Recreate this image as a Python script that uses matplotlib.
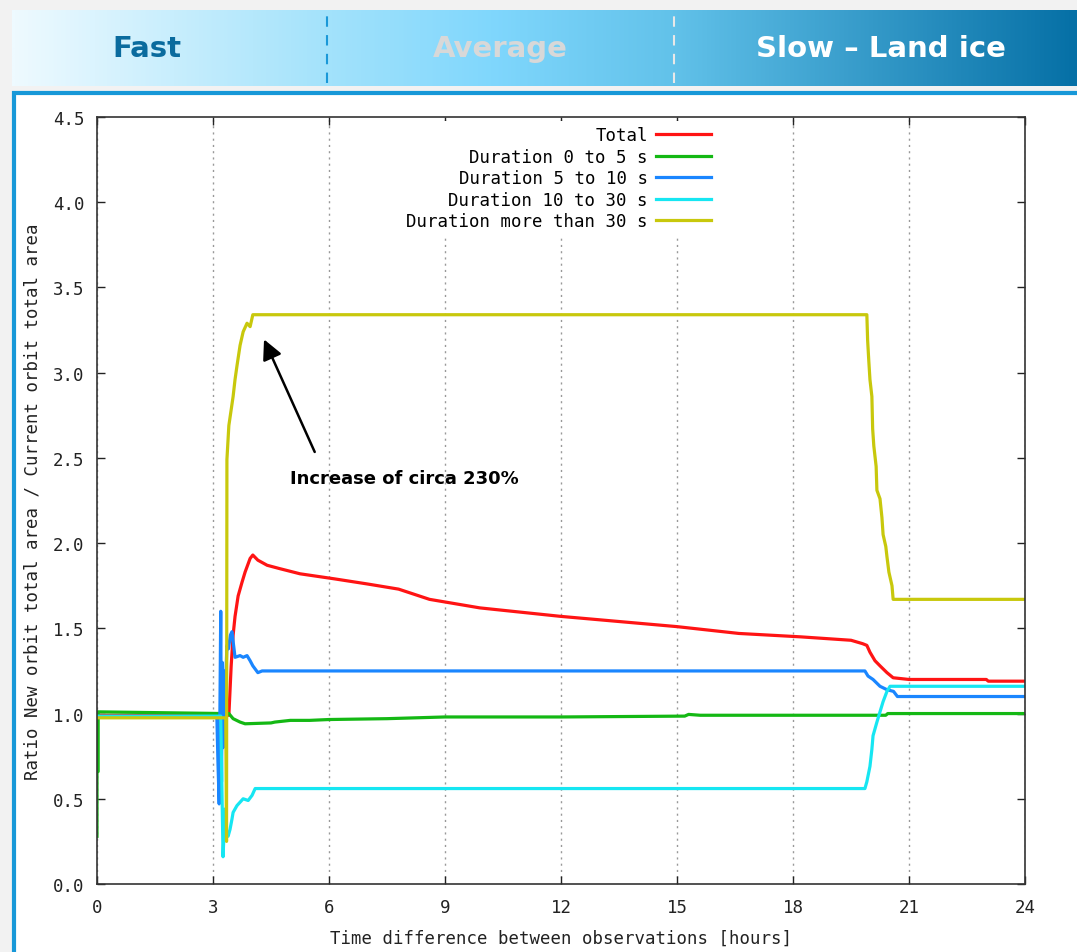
import numpy as np
import matplotlib
matplotlib.use("Agg")
from matplotlib import pyplot as plt
from matplotlib.colors import LinearSegmentedColormap
from matplotlib.patches import Rectangle

# --- data ---
t_total = [0, 3.30, 3.41, 3.47, 3.52, 3.57, 3.65, 3.75, 3.83, 3.96, 4.03, 4.16, 4.40, 4.73,
           5.25, 6.15, 7.0, 7.8, 8.6, 9.9, 12.0, 13.5, 15.0, 16.6, 18.2, 19.5, 19.8, 19.91,
           19.99, 20.12, 20.25, 20.43, 20.59, 21.0, 23.0, 23.05, 24]
v_total = [0.99, 0.99, 0.99, 1.28, 1.46, 1.57, 1.69, 1.77, 1.83, 1.91, 1.93, 1.90, 1.87, 1.85,
           1.82, 1.79, 1.76, 1.73, 1.67, 1.62, 1.57, 1.54, 1.51, 1.47, 1.45, 1.43, 1.41, 1.40,
           1.36, 1.31, 1.28, 1.24, 1.21, 1.20, 1.20, 1.19, 1.19]

t_d0_5 = [0, 0.0, 0.03, 0.03, 3.30, 3.41, 3.52, 3.70, 3.83, 4.5, 4.6, 5.0, 5.5, 6.0, 7.5,
          9.0, 12.0, 15.2, 15.3, 15.6, 18.0, 20.4, 20.45, 24]
v_d0_5 = [0.28, 0.66, 0.66, 1.01, 1.00, 1.00, 0.97, 0.95, 0.94, 0.945, 0.95, 0.96, 0.96, 0.965,
          0.97, 0.98, 0.98, 0.985, 0.995, 0.99, 0.99, 0.99, 1.0, 1.0]

t_d5_10 = [0, 3.10, 3.13, 3.16, 3.18, 3.20, 3.22, 3.24, 3.26, 3.28, 3.30, 3.33, 3.36, 3.40,
           3.45, 3.49, 3.57, 3.70, 3.78, 3.88, 3.96, 4.03, 4.16, 4.27, 19.86, 19.94, 20.07,
           20.25, 20.43, 20.6, 20.7, 24]
v_d5_10 = [0.98, 0.98, 0.70, 0.47, 1.05, 1.60, 0.60, 1.30, 0.80, 1.25, 0.95, 1.20, 1.40, 1.38,
           1.46, 1.48, 1.33, 1.34, 1.33, 1.34, 1.31, 1.28, 1.24, 1.25, 1.25, 1.22, 1.20,
           1.16, 1.14, 1.13, 1.10, 1.10]

t_d10_30 = [0, 3.20, 3.26, 3.31, 3.35, 3.39, 3.44, 3.49, 3.52, 3.62, 3.78, 3.91, 4.01, 4.09,
            19.86, 19.91, 19.99, 20.04, 20.07, 20.17, 20.25, 20.33, 20.43, 20.51, 24]
v_d10_30 = [0.985, 0.985, 0.16, 0.44, 0.30, 0.28, 0.32, 0.38, 0.42, 0.46, 0.50, 0.49, 0.52, 0.56,
            0.56, 0.60, 0.69, 0.79, 0.87, 0.95, 1.01, 1.07, 1.13, 1.16, 1.16]

t_d30 = [0, 3.33, 3.35, 3.36, 3.41, 3.52, 3.57, 3.62, 3.70, 3.78, 3.88, 3.96, 4.03, 19.91,
         19.93, 19.96, 19.99, 20.04, 20.06, 20.09, 20.15, 20.17, 20.25, 20.30, 20.33, 20.40,
         20.43, 20.48, 20.56, 20.59, 24]
v_d30 = [0.975, 0.975, 0.25, 2.49, 2.69, 2.86, 2.96, 3.04, 3.16, 3.24, 3.29, 3.27, 3.34, 3.34,
         3.19, 3.07, 2.96, 2.86, 2.67, 2.57, 2.45, 2.31, 2.26, 2.15, 2.05, 1.98, 1.92, 1.83,
         1.75, 1.67, 1.67]

series = [
    ("Total", t_total, v_total, "#ff1414"),
    ("Duration 0 to 5 s", t_d0_5, v_d0_5, "#14b814"),
    ("Duration 5 to 10 s", t_d5_10, v_d5_10, "#1a86ff"),
    ("Duration 10 to 30 s", t_d10_30, v_d10_30, "#16e6f2"),
    ("Duration more than 30 s", t_d30, v_d30, "#c8c80c"),
]
x_ticks = [0, 3, 6, 9, 12, 15, 18, 21, 24]
y_ticks = [0.0, 0.5, 1.0, 1.5, 2.0, 2.5, 3.0, 3.5, 4.0, 4.5]
header = ["Fast", "Average", "Slow \u2013 Land ice"]

W, H = 1077, 953
fig = plt.figure(figsize=(W / 100, H / 100), dpi=100)
fig.patch.set_facecolor("#f2f2f2")

# white panel with blue border (behind everything)
panel = Rectangle((14 / W, -0.05), 1.2, 1 - 94 / H + 0.05,
                  transform=fig.transFigure, facecolor="white",
                  edgecolor="#1798d8", linewidth=3, zorder=-5)
fig.patches.append(panel)

# header banner with gradient
hax = fig.add_axes([12 / W, 1 - 87 / H, (W - 12) / W, 76 / H])
cmap = LinearSegmentedColormap.from_list("band", [
    (0.0, "#eefaff"), (0.30, "#a2e2fb"), (0.45, "#80d7fd"),
    (0.62, "#62c2ea"), (1.0, "#0670a6")])
hax.imshow(np.linspace(0, 1, 512)[None, :], aspect="auto", cmap=cmap,
           extent=[12, W, 0, 1])
hax.set_xlim(12, W)
hax.set_ylim(0, 1)
hax.axis("off")
hax.plot([327, 327], [0.04, 0.96], color="#1a98d8", lw=1.5, ls=(0, (5, 4)))
hax.plot([674, 674], [0.04, 0.96], color="#e8e8e8", lw=1.5, ls=(0, (5, 4)))
hcolors = ["#0a6b9e", "#d8d8d8", "white"]
for lbl, xc, c in zip(header, [147, 500, 881], hcolors):
    hax.text(xc, 0.5, lbl, ha="center", va="center", fontsize=21,
             fontweight="bold", color=c, family="DejaVu Sans")

ax = fig.add_axes([97 / W, 1 - 885 / H, 928 / W, 767 / H])
for name, t, v, c in series:
    ax.plot(t, v, color=c, lw=2.3, label=name)

ax.set_xlim(0, 24)
ax.set_ylim(0, 4.5)
ax.set_xticks(x_ticks)
ax.set_yticks(y_ticks)
ax.set_yticklabels([f"{y:.1f}" for y in y_ticks])
ax.tick_params(direction="in", length=6, top=True, right=True, width=1,
               labelsize=12.5, colors="#222222")
ax.tick_params(axis="x", pad=10)
ax.tick_params(axis="y", pad=9)
for lab in ax.get_xticklabels() + ax.get_yticklabels():
    lab.set_family("DejaVu Sans Mono")
ax.grid(axis="x", color="#999999", ls=(0, (1.5, 3)), lw=1)
for s in ax.spines.values():
    s.set_color("#333333")
    s.set_linewidth(1.2)

ax.set_xlabel("Time difference between observations [hours]",
              family="DejaVu Sans Mono", fontsize=12.5, labelpad=9, color="#222222")
ax.set_ylabel("Ratio New orbit total area / Current orbit total area",
              family="DejaVu Sans Mono", fontsize=12.5, labelpad=8, color="#222222")

leg = ax.legend(loc="upper right", bbox_to_anchor=(0.677, 1.006), markerfirst=False,
                prop={"family": "DejaVu Sans Mono", "size": 12.5}, handlelength=3.2,
                handletextpad=0.45, labelspacing=0.2, borderpad=0.3,
                frameon=True, fancybox=False, framealpha=1, edgecolor="none")
leg._legend_box.align = "right"

ax.annotate("", xy=(4.29, 3.21), xytext=(5.66, 2.52),
            arrowprops=dict(arrowstyle="-|>", color="black", lw=1.8,
                            mutation_scale=30))
ax.text(7.96, 2.38, "Increase of circa 230%", ha="center", va="center",
        fontsize=13, fontweight="bold", family="DejaVu Sans")

fig.savefig("out.png", dpi=100, facecolor=fig.get_facecolor())
